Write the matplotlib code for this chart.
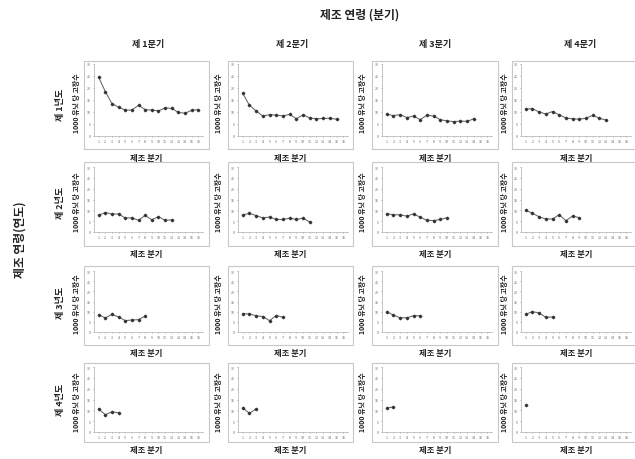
import matplotlib
matplotlib.use("Agg")
import matplotlib.pyplot as plt
from matplotlib.patches import Rectangle

plt.rcParams['font.family'] = ['Noto Sans CJK KR', 'DejaVu Sans']

col_titles = ["제 1분기", "제 2분기", "제 3분기", "제 4분기"]
row_titles = ["제 1년도", "제 2년도", "제 3년도", "제 4년도"]
x_ticks = list(range(1, 17))
y_ticks = [0, 5, 10, 15, 20, 25, 30]

y1q1 = [24.5, 18.5, 13.5, 12.0, 10.8, 10.8, 12.8, 11.0, 10.8, 10.5, 11.7, 11.5, 9.8, 9.5, 10.7, 11.0]
y1q2 = [17.8, 12.8, 10.5, 8.3, 8.9, 8.7, 8.4, 9.0, 7.2, 8.8, 7.5, 7.2, 7.3, 7.4, 7.0]
y1q3 = [9.1, 8.5, 8.9, 7.7, 8.3, 6.8, 8.7, 8.3, 6.8, 6.3, 6.0, 6.2, 6.1, 7.2]
y1q4 = [11.2, 11.4, 10.0, 9.2, 10.2, 8.8, 7.5, 7.2, 7.0, 7.4, 8.6, 7.4, 6.6]
y2q1 = [7.7, 9.0, 8.3, 8.3, 6.5, 6.5, 5.4, 7.7, 5.6, 7.1, 5.4, 5.6]
y2q2 = [7.9, 8.6, 7.6, 6.5, 6.9, 5.8, 5.8, 6.4, 5.8, 6.4, 4.6]
y2q3 = [8.5, 7.9, 8.0, 7.3, 8.4, 6.8, 5.4, 5.3, 5.8, 6.6]
y2q4 = [10.0, 8.7, 7.0, 6.0, 6.0, 8.0, 5.2, 7.4, 6.6]
y3q1 = [8.6, 6.9, 8.7, 7.4, 5.6, 5.9, 6.1, 7.8]
y3q2 = [9.0, 8.9, 8.0, 7.6, 5.6, 8.1, 7.3]
y3q3 = [10.0, 8.3, 7.0, 7.0, 8.0, 8.0]
y3q4 = [8.7, 10.0, 9.4, 7.2, 7.4]
y4q1 = [10.6, 8.0, 9.3, 8.9]
y4q2 = [11.2, 8.6, 10.7]
y4q3 = [11.0, 11.6]
y4q4 = [12.3]

series = [[y1q1, y1q2, y1q3, y1q4],
          [y2q1, y2q2, y2q3, y2q4],
          [y3q1, y3q2, y3q3, y3q4],
          [y4q1, y4q2, y4q3, y4q4]]

W, H = 635, 460
fig = plt.figure(figsize=(W / 100, H / 100), dpi=100)

# plot-area pixel extents
col_x = [(94, 203), (238, 348), (382, 492), (521, 631)]
box_x = [(84, 209), (228, 353), (372, 498), (512, 640)]
row_y = [(65, 137), (168, 233), (272, 333), (368, 433)]
box_y = [(62, 150), (163, 247), (267, 346), (364, 443)]
ylab_x = [76, 219, 362, 504]


def fx(px):
    return px / W


def fy(py):
    return 1 - py / H


for r in range(4):
    for c in range(4):
        bx0, bx1 = box_x[c]
        by0, by1 = box_y[r]
        fig.patches.append(Rectangle((fx(bx0), fy(by1)), fx(bx1) - fx(bx0), fy(by0) - fy(by1),
                                     transform=fig.transFigure, fill=False,
                                     edgecolor='#c8c8c8', linewidth=0.8))
        x0, x1 = col_x[c]
        y0, y1 = row_y[r]
        ax = fig.add_axes([fx(x0), fy(y1), fx(x1) - fx(x0), fy(y0) - fy(y1)])
        vals = series[r][c]
        xs = x_ticks[:len(vals)]
        ax.plot(xs, vals, color='#666666', linewidth=0.75, marker='D', markersize=1.3,
                markerfacecolor='#333333', markeredgecolor='#333333')
        ax.set_xlim(0.3, 16.7)
        ax.set_ylim(0, 30)
        ax.set_xticks(x_ticks)
        ax.set_yticks(y_ticks)
        ax.tick_params(labelsize=2.6, length=1, width=0.4, colors='#666666', pad=1.5)
        for s in ['top', 'right']:
            ax.spines[s].set_visible(False)
        for s in ['left', 'bottom']:
            ax.spines[s].set_color('#bbbbbb')
            ax.spines[s].set_linewidth(0.6)
        ax.patch.set_alpha(0)
        fig.text(fx(ylab_x[c]), fy((y0 + y1) / 2 + 2), "1000 유닛 당 고장수", rotation=90,
                 ha='center', va='center', fontsize=5, fontweight='bold', color='#222222')
        fig.text(fx((bx0 + bx1) / 2), fy(by1 + 8), "제조 분기", ha='center', va='center',
                 fontsize=6, fontweight='bold', color='#222222')

col_title_x = [148, 292, 435, 580]
for c in range(4):
    fig.text(fx(col_title_x[c]), fy(45), col_titles[c], ha='center', va='center',
             fontsize=6.5, fontweight='bold', color='#222222')

row_title_y = [105, 203, 303, 400]
for r in range(4):
    fig.text(fx(61), fy(row_title_y[r]), row_titles[r], rotation=90, ha='center', va='center',
             fontsize=6.5, fontweight='bold', color='#222222')

fig.text(fx(360), fy(15), "제조 연령 (분기)", ha='center', va='center', fontsize=8.5,
         fontweight='bold', color='#222222')
fig.text(fx(20), fy(240), "제조 연령(연도)", rotation=90, ha='center', va='center', fontsize=8.5,
         fontweight='bold', color='#222222')

fig.savefig("out.png", dpi=100, facecolor='white')
